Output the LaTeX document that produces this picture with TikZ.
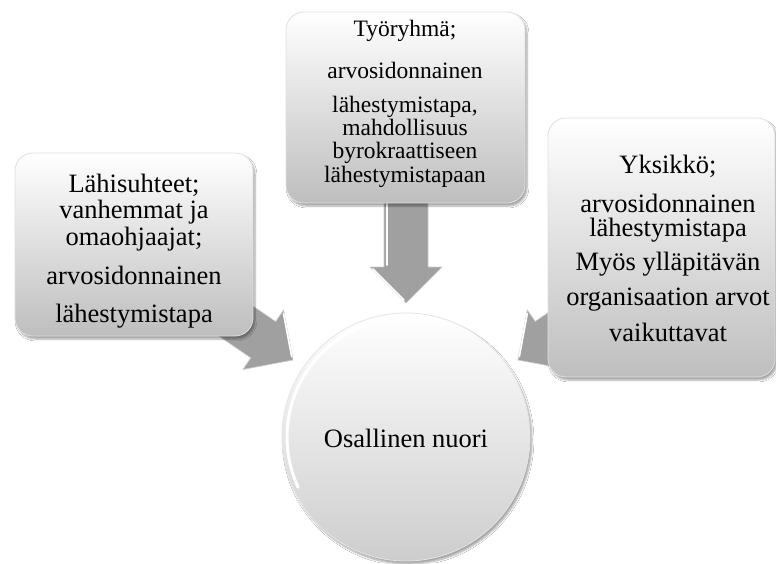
\documentclass[tikz,border=0pt]{standalone}
\usepackage{fontspec}
\setmainfont{Liberation Serif}
\usetikzlibrary{shadows.blur}
\definecolor{arrowgray}{RGB}{160,160,160}
\definecolor{boxbottom}{RGB}{190,190,190}
\definecolor{circbottom}{RGB}{205,205,205}
\tikzset{
  boxnode/.style={rectangle, rounded corners=18pt, top color=white, bottom color=boxbottom,
    draw=black!12, line width=0.8pt,
    blur shadow={shadow xshift=2pt, shadow yshift=-3pt, shadow blur steps=6, shadow opacity=35}},
  circnode/.style={circle, top color=white, bottom color=circbottom, draw=black!10, line width=0.8pt,
    blur shadow={shadow xshift=2pt, shadow yshift=-3pt, shadow blur steps=6, shadow opacity=35}},
  blockarrow/.style={fill=arrowgray, draw=black!20, line width=0.6pt, line join=miter},
  hilite/.style={draw=white, line width=1.6pt, line cap=round},
  ltxt/.style={anchor=base, inner sep=0pt, font=\fontsize{26.5}{30}\selectfont},
  ttxt/.style={anchor=base, inner sep=0pt, font=\fontsize{23.5}{27}\selectfont},
  rtxt/.style={anchor=base, inner sep=0pt, font=\fontsize{26.5}{30}\selectfont},
}
\begin{document}
\begin{tikzpicture}[x=1pt,y=-1pt]
\useasboundingbox[fill=white] (0,0) rectangle (776,563);

% tips of the block arrows
\coordinate (tipT) at (406,303);
\coordinate (tipL) at (293,360);
\coordinate (tipR) at (518,360);

% block arrows (behind boxes)
\begin{scope}[shift={(tipT)}, rotate=-90]
  \draw[blockarrow] (-108,-22) -- (-36,-22) -- (-36,-36) -- (0,0) -- (-36,36) -- (-36,22) -- (-108,22) -- cycle;
  \draw[hilite] (-100,19) -- (-38,19);
  \draw[hilite] (-34,33) -- (-3,2);
\end{scope}
\begin{scope}[shift={(tipL)}, rotate=-34.3]
  \draw[blockarrow] (-100,-22) -- (-36,-22) -- (-36,-36) -- (0,0) -- (-36,36) -- (-36,22) -- (-100,22) -- cycle;
  \draw[hilite] (-34,-33) -- (-3,-2);
\end{scope}
\begin{scope}[shift={(tipR)}, rotate=-145.5]
  \draw[blockarrow] (-100,-22) -- (-36,-22) -- (-36,-36) -- (0,0) -- (-36,36) -- (-36,22) -- (-100,22) -- cycle;
  \draw[hilite] (-34,33) -- (-3,2);
\end{scope}

% boxes
\node[boxnode, minimum width=238pt, minimum height=183pt] (boxL) at (134,244.5) {};
\node[boxnode, minimum width=239pt, minimum height=191pt] (boxT) at (405.5,107.5) {};
\node[boxnode, minimum width=227pt, minimum height=259pt] (boxR) at (661.5,247.5) {};

% circle
\node[circnode, minimum size=248pt] (circ) at (406,437) {};
\draw[white, line width=3pt, line cap=round] ([shift={(-110:119)}]circ.center) arc[start angle=-110, end angle=-205, radius=119];

% left box text
\node[ltxt] (l1) at (134,192) {Lähisuhteet;};
\node[ltxt] (l2) at (134,218) {vanhemmat ja};
\node[ltxt] (l3) at (134,245) {omaohjaajat;};
\node[ltxt] (l4) at (134,284) {arvosidonnainen};
\node[ltxt] (l5) at (134,322) {lähestymistapa};

% top box text
\node[ttxt] (t1) at (405,36) {Työryhmä;};
\node[ttxt] (t2) at (405,78) {arvosidonnainen};
\node[ttxt] (t3) at (405,112) {lähestymistapa,};
\node[ttxt] (t4) at (405,135) {mahdollisuus};
\node[ttxt] (t5) at (405,158) {byrokraattiseen};
\node[ttxt] (t6) at (405,182) {lähestymistapaan};

% right box text
\node[rtxt] (r1) at (668,173) {Yksikkö;};
\node[rtxt] (r2) at (668,212) {arvosidonnainen};
\node[rtxt] (r3) at (668,236) {lähestymistapa};
\node[rtxt] (r4) at (668,270) {Myös ylläpitävän};
\node[rtxt] (r5) at (668,305) {organisaation arvot};
\node[rtxt] (r6) at (668,341) {vaikuttavat};

% circle text
\node[ltxt] (c1) at (406,447) {Osallinen nuori};
\end{tikzpicture}
\end{document}
